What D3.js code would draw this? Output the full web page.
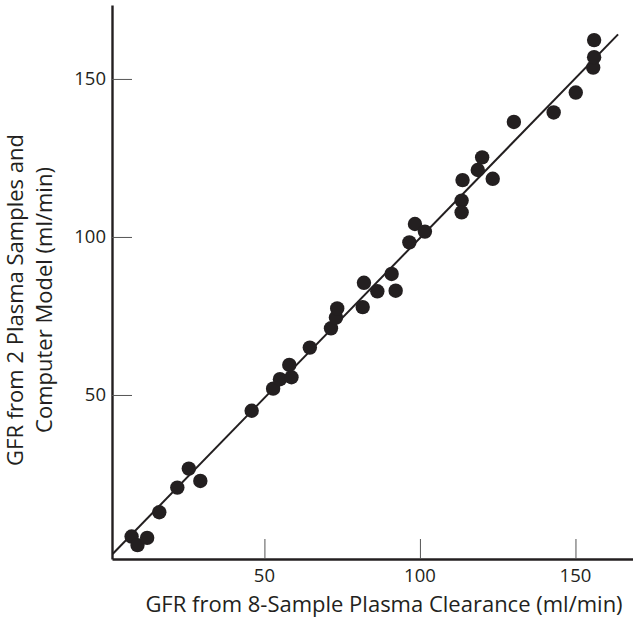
<!DOCTYPE html>
<html>
<head>
<meta charset="utf-8">
<script src="https://cdn.jsdelivr.net/npm/d3@7"></script>
<style>
  html, body { margin: 0; padding: 0; background: #fff; }
  svg { display: block; }
  text { font-family: "Open Sans", "Noto Sans", sans-serif; fill: #231f20; }
</style>
</head>
<body>
<svg id="chart"></svg>
<script>
// GFR, 8-sample clearance (x) vs 2-sample + computer model (y), ml/min
const gfrEight = [7.3, 9.2, 12.3, 16.2, 22.0, 25.7, 29.4, 45.9, 52.8, 55.0, 58.7, 58.0,
  64.6, 71.4, 73.0, 73.4, 82.0, 81.6, 86.3, 90.9, 92.2, 96.6, 98.4, 101.6, 113.4, 113.4,
  113.7, 118.6, 120.0, 123.4, 130.2, 143.0, 150.1, 155.7, 156.0, 156.0];
const gfrTwo = [5.2, 2.5, 4.8, 12.9, 20.7, 26.7, 22.8, 45.0, 52.0, 55.0, 55.6, 59.5,
  65.0, 71.1, 74.5, 77.4, 85.5, 77.8, 82.8, 88.3, 83.0, 98.3, 104.1, 101.7, 111.5, 107.8,
  118.0, 121.2, 125.2, 118.4, 136.4, 139.4, 145.7, 153.6, 156.9, 162.3];

// regression line end points
const fitX = [1.2, 163.7];
const fitY = [-0.3, 164.1];

const xTicks = [50, 100, 150];
const yTicks = [50, 100, 150];

const xTitle = 'GFR from 8-Sample Plasma Clearance (ml/min)';
const yTitleLines = ['GFR from 2 Plasma Samples and', 'Computer Model (ml/min)'];

const width = 633, height = 617;
const margin = { top: 5, right: 0, bottom: 58, left: 112 };
const ink = '#231f20';

const svg = d3.select('#chart')
  .attr('width', width)
  .attr('height', height)
  .attr('viewBox', `0 0 ${width} ${height}`);

const x = d3.scaleLinear()
  .domain([1, 168.5])
  .range([margin.left, width - margin.right]);

const y = d3.scaleLinear()
  .domain([-1.9, 173.4])
  .range([height - margin.bottom, margin.top]);

const g = svg.append('g');

// Axes: ticks point inward, labels drawn separately
const xAxis = g.append('g')
  .attr('transform', `translate(0,${height - margin.bottom})`)
  .call(d3.axisTop(x).tickValues(xTicks).tickSize(20).tickSizeOuter(0).tickFormat(''));
xAxis.select('.domain').attr('stroke', ink).attr('stroke-width', 2.4);
xAxis.selectAll('.tick line').attr('stroke', '#555').attr('stroke-width', 1);

const yAxis = g.append('g')
  .attr('transform', `translate(${margin.left},0)`)
  .call(d3.axisRight(y).tickValues(yTicks).tickSize(20).tickSizeOuter(0).tickFormat(''));
yAxis.select('.domain').attr('stroke', ink).attr('stroke-width', 2.4);
yAxis.selectAll('.tick line').attr('stroke', '#555').attr('stroke-width', 1);

g.selectAll('.x-lab')
  .data(xTicks)
  .join('text')
  .attr('class', 'x-lab')
  .attr('x', d => x(d))
  .attr('y', height - margin.bottom + 23)
  .attr('text-anchor', 'middle')
  .attr('font-size', 18.5)
  .text(d => d);

g.selectAll('.y-lab')
  .data(yTicks)
  .join('text')
  .attr('class', 'y-lab')
  .attr('x', margin.left - 6)
  .attr('y', d => y(d))
  .attr('dy', '0.35em')
  .attr('text-anchor', 'end')
  .attr('font-size', 18.5)
  .text(d => d);

// Axis titles
g.append('text')
  .attr('x', 384)
  .attr('y', 612)
  .attr('text-anchor', 'middle')
  .attr('font-size', 22)
  .text(xTitle);

const yTitle = g.append('text')
  .attr('transform', 'translate(23,300) rotate(-90)')
  .attr('text-anchor', 'middle')
  .attr('font-size', 22);
yTitleLines.forEach((t, i) => {
  yTitle.append('tspan')
    .attr('x', 0)
    .attr('y', i * 29)
    .text(t);
});

// Fitted line
g.append('line')
  .attr('x1', x(fitX[0]))
  .attr('y1', y(fitY[0]))
  .attr('x2', x(fitX[1]))
  .attr('y2', y(fitY[1]))
  .attr('stroke', ink)
  .attr('stroke-width', 2);

// Points
g.selectAll('.pt')
  .data(gfrEight)
  .join('circle')
  .attr('class', 'pt')
  .attr('cx', d => x(d))
  .attr('cy', (_, i) => y(gfrTwo[i]))
  .attr('r', 7.2)
  .attr('fill', ink);
</script>
</body>
</html>
